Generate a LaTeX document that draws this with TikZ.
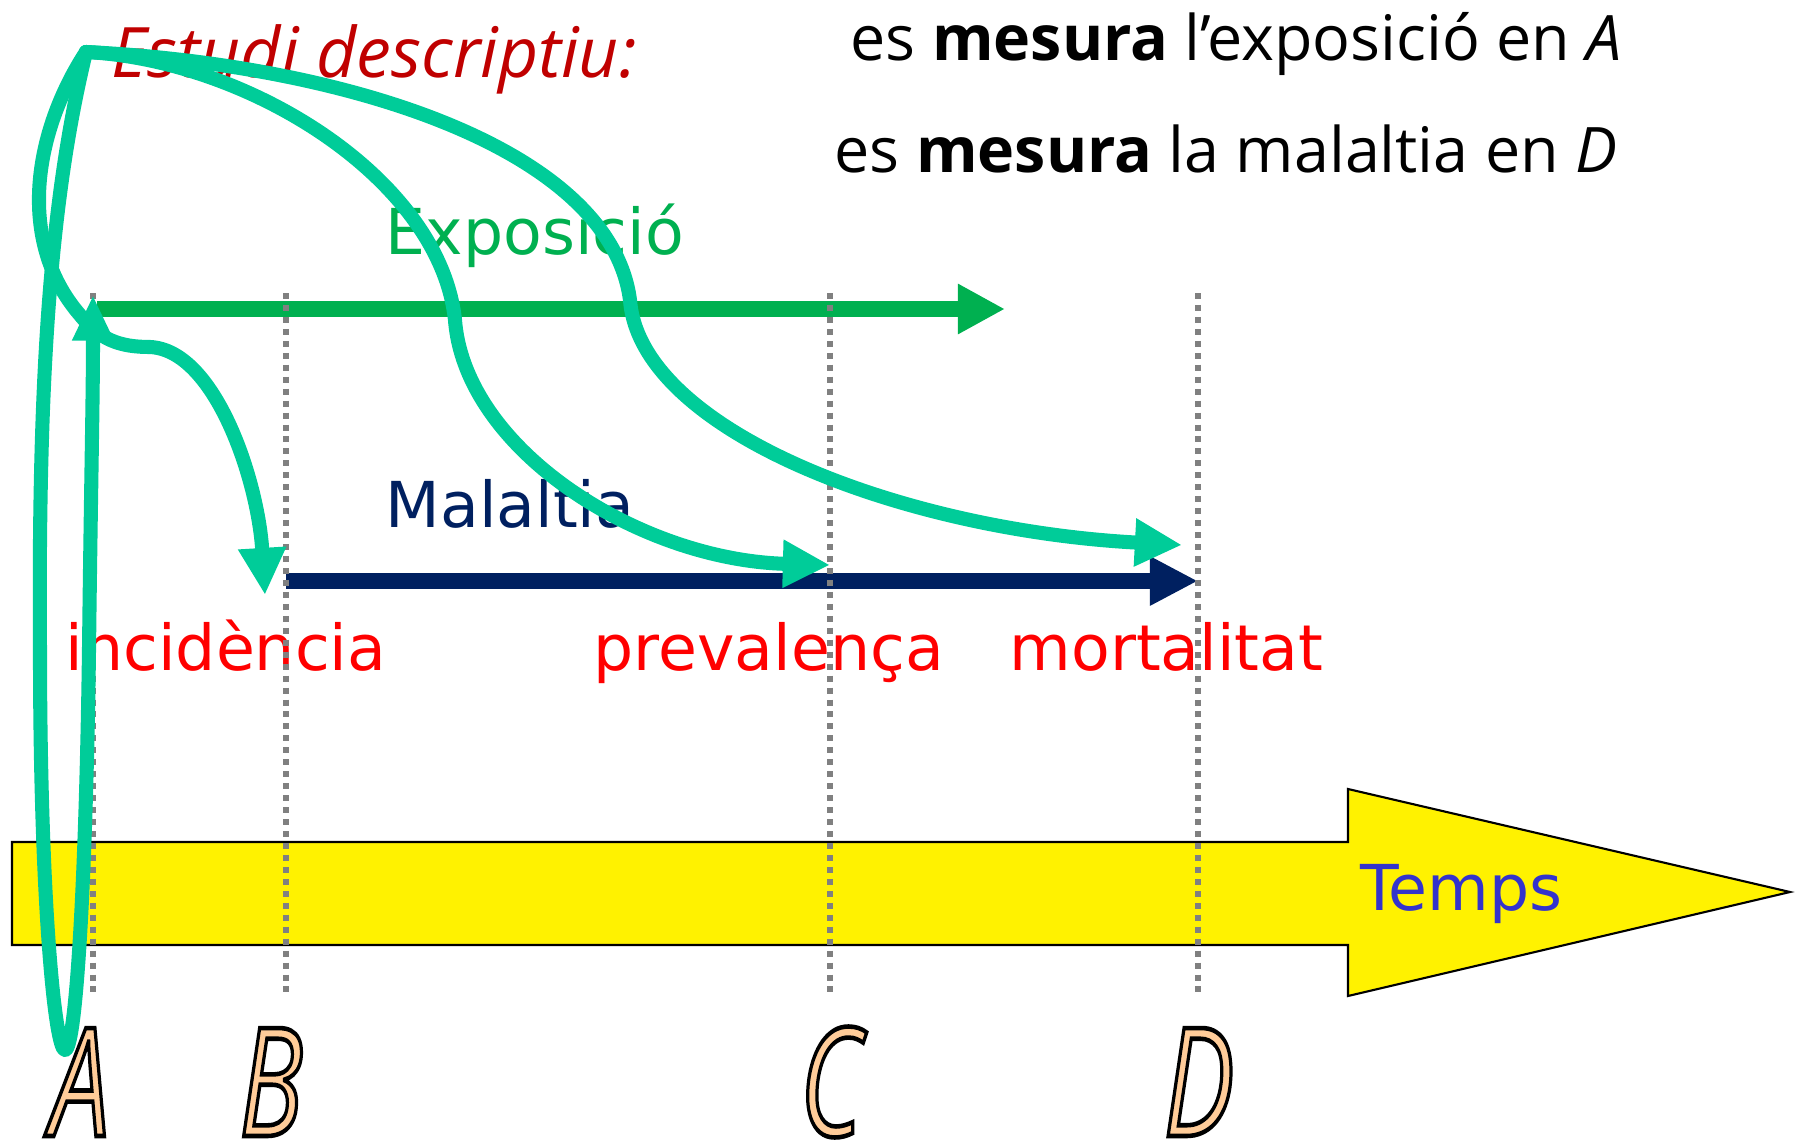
\documentclass[tikz,border=0pt]{standalone}
\usepackage{fontspec}
\usetikzlibrary{arrows.meta}
\newfontfamily\verd{DejaVu Sans}
\newfontfamily\comic{Open Sans}
\definecolor{estred}{HTML}{C00000}
\definecolor{expgreen}{HTML}{00B050}
\definecolor{navy}{HTML}{002060}
\definecolor{lblred}{HTML}{FF0000}
\definecolor{tempsblue}{HTML}{3333CC}
\definecolor{tealc}{HTML}{00CC99}
\definecolor{dotgray}{HTML}{808080}
\definecolor{peach}{HTML}{FFCC99}
\newcommand{\outlinedletter}[1]{{\color{peach}\special{pdf:literal direct 2 Tr 1.3 w 0 0 0 RG}#1\special{pdf:literal direct 0 Tr}}}
\tikzset{
  tealline/.style={draw=tealc, line width=4pt, line cap=round, line join=round},
  tealarrow/.style={tealline, -{Triangle[length=13.4pt,width=12.8pt]}},
  dots/.style={draw=dotgray, line width=1.7pt, dash pattern=on 1.7pt off 1.7pt},
  lbl/.style={anchor=base west, inner sep=0pt, font=\verd\fontsize{18}{21}\selectfont},
  txt/.style={anchor=base west, inner sep=0pt, font=\comic\fontsize{17.85}{20}\selectfont},
  bigletter/.style={anchor=base, inner sep=0pt, font=\comic\itshape\fontsize{43}{50}\selectfont},
  timeline/.style={line width=4.3pt},
}
\begin{document}
\begin{tikzpicture}[x=0.01cm,y=-0.01cm]
\useasboundingbox (0,0) rectangle (1796,1145);

% yellow time arrow
\draw[fill=yellow, line width=0.6pt, line join=miter] (12,842) -- (1348,842) -- (1348,789) -- (1790,892) -- (1348,996) -- (1348,945) -- (12,945) -- cycle;
\node[lbl, text=tempsblue] (temps) at (1360,910) {Temps};

% exposure and disease arrows
\coordinate (expS) at (97,309);
\coordinate (expE) at (1005,309);
\coordinate (malS) at (286,581);
\coordinate (malE) at (1198,581);
\draw[timeline, expgreen, -{Triangle[length=13.4pt,width=13.4pt]}] (expS) -- (expE);
\draw[timeline, navy, -{Triangle[length=13.7pt,width=13.1pt]}] (malS) -- (malE);

% texts
\node[anchor=base west, inner sep=0pt, text=estred, font=\comic\itshape\fontsize{19.8}{23}\selectfont] (estudi) at (111,77) {Estudi descriptiu:};
\node[txt] (line1) at (850,60) {es \textbf{mesura} l’exposició en \textit{A}};
\node[txt] (line2) at (834,172) {es \textbf{mesura} la malaltia en \textit{D}};
\node[lbl, text=expgreen] (expo) at (385,254) {Exposició};
\node[lbl, text=navy] (mal) at (385,527) {Malaltia};
\node[lbl, text=lblred] (inc) at (65,670) {incidència};
\node[lbl, text=lblred] (prev) at (593,670) {prevalença};
\node[lbl, text=lblred] (mort) at (1009,670) {mortalitat};

% dotted time marks
\coordinate (At) at (93,293);  \coordinate (Ab) at (93,994);
\coordinate (Bt) at (286,293); \coordinate (Bb) at (286,994);
\coordinate (Ct) at (830,293); \coordinate (Cb) at (830,994);
\coordinate (Dt) at (1198,293);\coordinate (Db) at (1198,994);
\draw[dots] (At) -- (Ab);
\draw[dots] (Bt) -- (Bb);
\draw[dots] (Ct) -- (Cb);
\draw[dots] (Dt) -- (Db);

% teal hand-drawn arrows
\coordinate (apex) at (86,52);
\coordinate (tipA) at (93,295);
\coordinate (tipInc) at (265,595);
\coordinate (tipPrev) at (830,565);
\coordinate (tipMort) at (1182,545);
\draw[tealline, -{Triangle[length=13pt,width=11pt]}] (apex)
  .. controls (50,200) and (38,380) .. (40,650)
  .. controls (40,900) and (55,1050) .. (65,1050)
  .. controls (76,1050) and (86,880) .. (89,650)
  .. controls (91,480) and (93,400) .. (tipA);
\draw[tealarrow] (apex)
  .. controls (35,130) and (15,240) .. (80,315)
  .. controls (100,340) and (120,347) .. (150,347)
  .. controls (215,350) and (258,480) .. (tipInc);
\draw[tealarrow] (apex)
  .. controls (250,60) and (440,180) .. (455,320)
  .. controls (465,450) and (640,560) .. (tipPrev);
\draw[tealarrow] (apex)
  .. controls (350,65) and (610,150) .. (630,300)
  .. controls (640,430) and (900,530) .. (tipMort);

% letters
\node[bigletter] (la) at (80,1136) {\scalebox{0.7}[1]{\outlinedletter{A}}};
\node[bigletter] (lb) at (271,1136) {\scalebox{0.7}[1]{\outlinedletter{B}}};
\node[bigletter] (lc) at (831,1136) {\scalebox{0.7}[1]{\outlinedletter{C}}};
\node[bigletter] (ld) at (1199,1136) {\scalebox{0.7}[1]{\outlinedletter{D}}};
\end{tikzpicture}
\end{document}
